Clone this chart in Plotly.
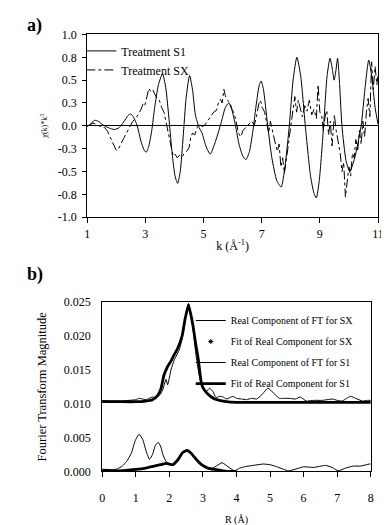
import plotly.graph_objects as go

# ---------------- Panel a) data: chi(k)*k^3 ----------------
k_s1 = [1.00, 1.12, 1.25, 1.38, 1.50, 1.65, 1.80, 1.95, 2.10, 2.25, 2.40, 2.50, 2.60, 2.72, 2.85,
        2.95, 3.03, 3.12, 3.22, 3.32, 3.45, 3.59, 3.70, 3.82, 3.92, 4.02, 4.11, 4.20, 4.30, 4.40,
        4.52, 4.62, 4.72, 4.85, 4.95, 5.08, 5.23, 5.38, 5.52, 5.62, 5.75, 5.87, 5.98, 6.10, 6.22,
        6.35, 6.46, 6.58, 6.70, 6.82, 6.92, 6.98, 7.06, 7.20, 7.35, 7.52, 7.67, 7.80, 7.95, 8.08,
        8.21, 8.34, 8.50, 8.68, 8.80, 8.88, 8.98, 9.13, 9.25, 9.35, 9.43, 9.49, 9.55, 9.61, 9.68,
        9.76, 9.90, 10.03, 10.20, 10.42, 10.55, 10.68, 10.78, 10.90, 11.00]
chi_s1 = [-0.01, 0.02, 0.06, 0.05, 0.02, -0.01, -0.03, -0.04, -0.02, 0.04, 0.11, 0.13, 0.09, 0.00, -0.17,
          -0.26, -0.29, -0.22, -0.05, 0.20, 0.45, 0.57, 0.42, 0.05, -0.30, -0.55, -0.63, -0.50, -0.12, 0.30,
          0.55, 0.40, 0.12, -0.02, -0.08, -0.22, -0.31, -0.20, -0.06, 0.05, 0.20, 0.25, 0.17, 0.00, -0.20,
          -0.33, -0.37, -0.28, -0.05, 0.25, 0.45, 0.49, 0.40, 0.02, -0.35, -0.60, -0.67, -0.45, 0.00, 0.50,
          0.75, 0.55, 0.00, -0.55, -0.74, -0.79, -0.60, 0.00, 0.55, 0.74, 0.62, 0.50, 0.60, 0.74, 0.45,
          0.00, -0.38, -0.50, -0.35, 0.00, 0.40, 0.72, 0.55, 0.20, 0.02]

k_sx = [1.00, 1.10, 1.20, 1.30, 1.40, 1.50, 1.60, 1.70, 1.80, 1.90, 2.00, 2.08, 2.15, 2.25, 2.35,
        2.45, 2.55, 2.65, 2.75, 2.85, 2.92, 2.98, 3.05, 3.12, 3.18, 3.25, 3.32, 3.40, 3.48, 3.56,
        3.64, 3.70, 3.76, 3.82, 3.90, 3.96, 4.02, 4.10, 4.18, 4.26, 4.34, 4.42, 4.50, 4.56, 4.62,
        4.70, 4.78, 4.86, 4.95, 5.05, 5.15, 5.25, 5.35, 5.45, 5.52, 5.58, 5.64, 5.70, 5.75, 5.82,
        5.90, 5.98, 6.05, 6.12, 6.20, 6.28, 6.36, 6.45, 6.55, 6.65, 6.75, 6.82, 6.90, 6.96, 7.02,
        7.10, 7.18, 7.24, 7.30, 7.38, 7.46, 7.54, 7.60, 7.66, 7.72, 7.78, 7.84, 7.90, 7.96, 8.02,
        8.08, 8.14, 8.20, 8.26, 8.32, 8.40, 8.48, 8.56, 8.64, 8.72, 8.80, 8.88, 8.94, 9.00, 9.06,
        9.12, 9.18, 9.24, 9.30, 9.36, 9.42, 9.50, 9.56, 9.62, 9.70, 9.76, 9.82, 9.88, 9.94, 10.00,
        10.06, 10.12, 10.18, 10.24, 10.30, 10.36, 10.42, 10.48, 10.54, 10.60, 10.66, 10.72, 10.78,
        10.84, 10.90, 10.96, 11.00]
chi_sx = [0.00, 0.01, 0.03, 0.02, 0.00, -0.01, -0.02, -0.06, -0.13, -0.21, -0.27, -0.25, -0.20, -0.14, -0.08,
          -0.02, 0.04, 0.08, 0.12, 0.18, 0.24, 0.22, 0.33, 0.41, 0.38, 0.40, 0.35, 0.30, 0.28, 0.20,
          0.15, 0.05, -0.02, -0.12, -0.25, -0.33, -0.31, -0.35, -0.32, -0.34, -0.30, -0.28, -0.24, -0.13, -0.08,
          -0.10, -0.02, 0.02, -0.01, 0.01, 0.06, 0.10, 0.15, 0.17, 0.26, 0.29, 0.25, 0.40, 0.33, 0.28,
          0.26, 0.18, 0.14, 0.05, -0.08, -0.12, -0.05, -0.02, 0.02, 0.05, 0.01, 0.10, 0.24, 0.28, 0.20,
          0.15, 0.02, -0.08, 0.05, -0.08, -0.18, -0.28, -0.20, -0.45, -0.35, -0.52, -0.40, -0.25, -0.10, 0.05,
          0.18, 0.32, 0.15, 0.28, 0.20, 0.10, 0.22, 0.16, 0.28, 0.12, 0.18, 0.08, 0.45, 0.15, 0.12,
          -0.05, 0.10, 0.17, -0.10, 0.05, -0.22, 0.12, -0.05, -0.15, -0.30, -0.50, -0.40, -0.78, -0.62, -0.45,
          -0.55, -0.30, -0.35, -0.15, -0.28, -0.05, -0.20, 0.05, -0.12, 0.15, 0.30, 0.10, 0.70,
          0.40, 0.65, 0.45, 0.55]

a_ytick_vals = [-1.0, -0.75, -0.5, -0.25, 0.0, 0.25, 0.5, 0.75, 1.0]
a_ytick_text = ["-1.0", "-0.8", "-0.5", "-0.3", "0.0", "0.3", "0.5", "0.8", "1.0"]
a_xtick_vals = [1, 3, 5, 7, 9, 11]

# ---------------- Panel b) data: Fourier transform ----------------
r_sx = [0.0, 0.2, 0.4, 0.6, 0.8, 1.0, 1.1, 1.2, 1.3, 1.4, 1.5, 1.6, 1.7, 1.8, 1.9,
        1.95, 2.05, 2.15, 2.3, 2.42, 2.5, 2.57, 2.65, 2.72, 2.8, 2.9, 3.0, 3.1, 3.2, 3.3,
        3.39, 3.5, 3.6, 3.7, 3.8, 3.9, 4.0, 4.15, 4.3, 4.45, 4.6, 4.75, 4.94, 5.1, 5.28,
        5.4, 5.57, 5.75, 5.9, 6.08, 6.3, 6.56, 6.7, 6.85, 7.0, 7.15, 7.28, 7.4, 7.55, 7.75,
        7.9, 8.0]
ft_sx = [0.0105, 0.0104, 0.0104, 0.0104, 0.0105, 0.0106, 0.0108, 0.0107, 0.0106, 0.0108, 0.0110, 0.0109, 0.0112, 0.0120, 0.0136,
         0.0128, 0.0150, 0.0165, 0.0180, 0.0205, 0.0235, 0.0248, 0.0230, 0.0205, 0.0170, 0.0140, 0.0122, 0.0118, 0.0123, 0.0118,
         0.0109, 0.0111, 0.0110, 0.0107, 0.0109, 0.0111, 0.0108, 0.0107, 0.0106, 0.0108, 0.0107, 0.0113, 0.0123, 0.0116, 0.0108,
         0.0108, 0.0108, 0.0107, 0.0110, 0.0104, 0.0105, 0.0105, 0.0106, 0.0107, 0.0105, 0.0104, 0.0108, 0.0111, 0.0108, 0.0104,
         0.0105, 0.0105]

r_fit_sx = [0.0, 0.5, 1.0, 1.3, 1.5, 1.65, 1.75, 1.84, 1.95, 2.05, 2.13, 2.25, 2.38, 2.47, 2.57,
            2.64, 2.71, 2.78, 2.86, 2.96, 3.05, 3.2, 3.35, 3.49, 3.7, 4.0, 5.0, 6.0, 7.0, 8.0]
fit_sx = [0.0103, 0.0103, 0.0103, 0.0104, 0.0106, 0.0112, 0.0122, 0.0142, 0.0155, 0.0163, 0.0171, 0.0182, 0.0200, 0.0225, 0.0246,
          0.0232, 0.0214, 0.0190, 0.0167, 0.0129, 0.0120, 0.0112, 0.0107, 0.0105, 0.0103, 0.0102, 0.0102, 0.0102, 0.0102, 0.0102]

r_s1 = [0.0, 0.2, 0.46, 0.6, 0.73, 0.87, 0.98, 1.10, 1.21, 1.31, 1.41, 1.50, 1.58, 1.67, 1.75,
        1.81, 1.90, 1.98, 2.05, 2.13, 2.25, 2.38, 2.52, 2.65, 2.80, 2.96, 3.10, 3.25, 3.40, 3.57,
        3.75, 3.94, 4.10, 4.24, 4.50, 4.80, 5.00, 5.20, 5.55, 5.80, 6.00, 6.30, 6.65, 6.85, 7.03,
        7.25, 7.48, 7.70, 7.95, 8.0]
ft_s1 = [0.0002, 0.0001, 0.0004, 0.0008, 0.0015, 0.0027, 0.0045, 0.0055, 0.0047, 0.0030, 0.0018, 0.0025, 0.0038, 0.0043, 0.0036,
         0.0025, 0.0015, 0.0012, 0.0009, 0.0010, 0.0017, 0.0027, 0.0031, 0.0027, 0.0018, 0.0011, 0.0006, 0.0004, 0.0008, 0.0013,
         0.0007, 0.0001, 0.0005, 0.0007, 0.0009, 0.0011, 0.0010, 0.0007, 0.0001, 0.0004, 0.0007, 0.0006, 0.0009, 0.0006, 0.0001,
         0.0005, 0.0008, 0.0008, 0.0011, 0.0011]

r_fit_s1 = [0.0, 0.5, 1.0, 1.3, 1.55, 1.74, 1.90, 2.00, 2.10, 2.25, 2.40, 2.53, 2.65, 2.80, 2.96,
            3.15, 3.35, 3.60, 3.85, 4.0]
fit_s1 = [0.0002, 0.0001, 0.0003, 0.0005, 0.0008, 0.0010, 0.0012, 0.0011, 0.0010, 0.0017, 0.0028, 0.0031, 0.0027, 0.0018, 0.0010,
          0.0005, 0.0003, 0.0001, 0.0000, 0.0000]

b_ytick_vals = [0.0, 0.005, 0.010, 0.015, 0.020, 0.025]
b_xtick_vals = [0, 1, 2, 3, 4, 5, 6, 7, 8]

FONT = "Liberation Serif"
W, H = 389, 525

fig = go.Figure()

# panel a traces
fig.add_trace(go.Scatter(x=k_s1, y=chi_s1, mode="lines", name="Treatment S1",
                         line=dict(color="black", width=1, shape="spline", smoothing=0.6),
                         xaxis="x", yaxis="y", legend="legend"))
fig.add_trace(go.Scatter(x=k_sx, y=chi_sx, mode="lines", name="Treatment SX",
                         line=dict(color="black", width=1, dash="dashdot"),
                         xaxis="x", yaxis="y", legend="legend"))

# panel b traces
fig.add_trace(go.Scatter(x=r_sx, y=ft_sx, mode="lines", name="Real Component of FT for SX",
                         line=dict(color="black", width=1, shape="spline", smoothing=0.5),
                         xaxis="x2", yaxis="y2", legend="legend2", legendgroup="g1"))
fig.add_trace(go.Scatter(x=r_fit_sx, y=fit_sx, mode="lines", name="Fit of Real Component for SX",
                         line=dict(color="black", width=2.8, shape="spline", smoothing=0.4),
                         xaxis="x2", yaxis="y2", showlegend=False, legendgroup="g2"))
fig.add_trace(go.Scatter(x=[None], y=[None], mode="markers", name="Fit of Real Component for SX",
                         marker=dict(color="black", size=4, symbol="asterisk", line=dict(width=1, color="black")),
                         xaxis="x2", yaxis="y2", legend="legend2", legendgroup="g2"))
fig.add_trace(go.Scatter(x=r_s1, y=ft_s1, mode="lines", name="Real Component of FT for S1",
                         line=dict(color="black", width=1, shape="spline", smoothing=0.5),
                         xaxis="x2", yaxis="y2", legend="legend2", legendgroup="g3"))
fig.add_trace(go.Scatter(x=r_fit_s1, y=fit_s1, mode="lines", name="Fit of Real Component for S1",
                         line=dict(color="black", width=2.8, shape="spline", smoothing=0.5),
                         xaxis="x2", yaxis="y2", legend="legend2", legendgroup="g4"))

ax_common = dict(showline=True, linecolor="black", linewidth=1, mirror=True, showgrid=False,
                 tickfont=dict(family=FONT, size=12, color="black"), tickcolor="black", ticks="outside")

fig.update_layout(
    width=W, height=H, margin=dict(l=0, r=0, t=0, b=0),
    paper_bgcolor="white", plot_bgcolor="white",
    font=dict(family=FONT, color="black"),
    xaxis=dict(domain=[78 / W, 375.7 / W], range=[1, 11], tickvals=a_xtick_vals, ticklen=5,
               title=dict(text="k (Å<sup>-1</sup>)", font=dict(family=FONT, size=12), standoff=2),
               anchor="y", zeroline=False, **ax_common),
    yaxis=dict(domain=[1 - 207.7 / H, 1 - 20 / H], range=[-1, 1], tickvals=a_ytick_vals,
               ticktext=a_ytick_text, ticklen=4, ticklabelstandoff=3, zeroline=True, zerolinecolor="black",
               zerolinewidth=1,
               title=dict(text="χ(k)*k<sup>3</sup>", font=dict(family=FONT, size=8), standoff=8),
               anchor="x", **ax_common),
    xaxis2=dict(domain=[93.3 / W, 368.3 / W], range=[0, 8], tickvals=b_xtick_vals, ticklen=5,
                ticklabelstandoff=10,
                title=dict(text="R (Å)", font=dict(family=FONT, size=10), standoff=12),
                anchor="y2", zeroline=False, **ax_common),
    yaxis2=dict(domain=[1 - 469 / H, 1 - 295 / H], range=[0, 0.025], tickvals=b_ytick_vals,
                tickformat=".3f", ticklen=0, ticklabelstandoff=8,
                title=dict(text="Fourier Transform Magnitude", font=dict(family=FONT, size=12.5), standoff=14),
                anchor="x2", zeroline=False,
                **{k: v for k, v in ax_common.items() if k != "ticks"}),
    legend=dict(x=72 / W, y=1 - 22 / H, xanchor="left", yanchor="top", bgcolor="rgba(0,0,0,0)",
                font=dict(family=FONT, size=12)),
    legend2=dict(x=184 / W, y=1 - 299 / H, xanchor="left", yanchor="top", bgcolor="rgba(0,0,0,0)",
                 font=dict(family=FONT, size=10), tracegroupgap=2),
    showlegend=True,
    annotations=[
        dict(text="<b>a)</b>", x=14 / W, y=1 - 11 / H, xref="paper", yref="paper", xanchor="left",
             yanchor="middle", showarrow=False, font=dict(family=FONT, size=18)),
        dict(text="<b>b)</b>", x=14 / W, y=1 - 267 / H, xref="paper", yref="paper", xanchor="left",
             yanchor="middle", showarrow=False, font=dict(family=FONT, size=18)),
    ],
)

fig.write_html("out.html")
